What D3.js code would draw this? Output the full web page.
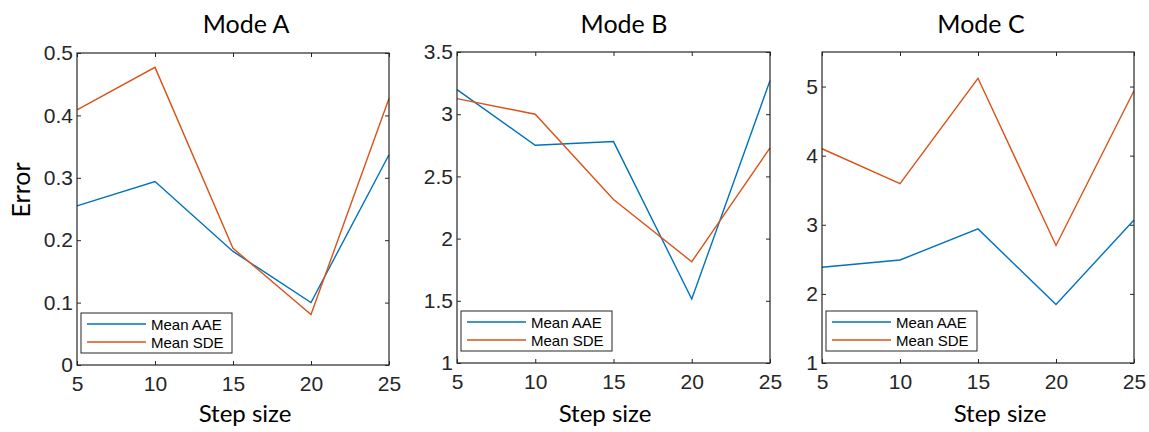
<!DOCTYPE html>
<html>
<head>
<meta charset="utf-8">
<script src="https://cdn.jsdelivr.net/npm/d3@7"></script>
<style>
  body { margin: 0; background: #fff; }
  svg { display: block; }
</style>
</head>
<body>
<div id="chart"></div>
<script>
// data
const steps = [5, 10, 15, 20, 25];
const seriesNames = ["Mean AAE", "Mean SDE"];
const panelTitles = ["Mode A", "Mode B", "Mode C"];

const modeA_AAE = [0.255, 0.294, 0.182, 0.100, 0.337];
const modeA_SDE = [0.409, 0.477, 0.187, 0.081, 0.427];
const modeB_AAE = [3.198, 2.750, 2.780, 1.514, 3.270];
const modeB_SDE = [3.125, 3.000, 2.314, 1.814, 2.729];
const modeC_AAE = [2.385, 2.490, 2.940, 1.846, 3.070];
const modeC_SDE = [4.100, 3.596, 5.120, 2.700, 4.940];

const yDomainA = [0, 0.5];
const yDomainB = [1, 3.5];
const yDomainC = [1, 5.5];
const yTicksA = [0, 0.1, 0.2, 0.3, 0.4, 0.5];
const yTicksB = [1, 1.5, 2, 2.5, 3, 3.5];
const yTicksC = [1, 2, 3, 4, 5];

const width = 1149, height = 432;
const colors = ["#0072BD", "#D95319"];
const axisColor = "#262626";

// plot boxes (left, top, right, bottom) and label positions
const panels = [
  { title: panelTitles[0], series: [modeA_AAE, modeA_SDE], domain: yDomainA, ticks: yTicksA,
    box: [77, 53, 389, 365], titleX: 246, xlabX: 245 },
  { title: panelTitles[1], series: [modeB_AAE, modeB_SDE], domain: yDomainB, ticks: yTicksB,
    box: [457, 52, 770, 363], titleX: 624, xlabX: 605 },
  { title: panelTitles[2], series: [modeC_AAE, modeC_SDE], domain: yDomainC, ticks: yTicksC,
    box: [822, 52, 1134, 363], titleX: 981, xlabX: 1000 }
];

const svg = d3.select("#chart").append("svg")
  .attr("width", width)
  .attr("height", height);

const tickFont = "'Liberation Sans', Arial, sans-serif";
const labelFont = "Lato, 'Open Sans', sans-serif";

panels.forEach((p, i) => {
  const [x0, y0, x1, y1] = p.box;
  const x = d3.scaleLinear().domain([5, 25]).range([x0, x1]);
  const y = d3.scaleLinear().domain(p.domain).range([y1, y0]);
  const g = svg.append("g");

  // data lines
  const line = d3.line().x((d, j) => x(steps[j])).y(d => y(d));
  p.series.forEach((s, k) => {
    g.append("path")
      .datum(s)
      .attr("fill", "none")
      .attr("stroke", colors[k])
      .attr("stroke-width", 1.4)
      .attr("d", line);
  });

  // axes with inward ticks, mirrored on top/right
  const fmt = d => String(d);
  const bottom = g.append("g").attr("transform", `translate(0,${y1})`)
    .call(d3.axisBottom(x).tickValues(steps).tickFormat(fmt).tickSize(-4).tickPadding(11));
  const left = g.append("g").attr("transform", `translate(${x0},0)`)
    .call(d3.axisLeft(y).tickValues(p.ticks).tickFormat(fmt).tickSize(-4).tickPadding(4));
  const top = g.append("g").attr("transform", `translate(0,${y0})`)
    .call(d3.axisTop(x).tickValues(steps).tickFormat("").tickSize(-4));
  const right = g.append("g").attr("transform", `translate(${x1},0)`)
    .call(d3.axisRight(y).tickValues(p.ticks).tickFormat("").tickSize(-4));

  [bottom, left, top, right].forEach(a => {
    a.select(".domain").remove();
    a.selectAll("line").attr("stroke", axisColor);
    a.selectAll("text")
      .attr("fill", axisColor)
      .style("font-family", tickFont)
      .style("font-size", "21px");
  });

  g.append("rect")
    .attr("x", x0).attr("y", y0)
    .attr("width", x1 - x0).attr("height", y1 - y0)
    .attr("fill", "none")
    .attr("stroke", axisColor)
    .attr("stroke-width", 1.2);

  // title and x label
  g.append("text")
    .attr("x", p.titleX).attr("y", 33)
    .attr("text-anchor", "middle")
    .style("font-family", labelFont)
    .style("font-size", "25px")
    .attr("fill", "#000")
    .text(p.title);

  g.append("text")
    .attr("x", p.xlabX).attr("y", 422)
    .attr("text-anchor", "middle")
    .style("font-family", labelFont)
    .style("font-size", "24px")
    .attr("fill", "#000")
    .text("Step size");

  // legend
  const lg = g.append("g").attr("transform", `translate(${x0 + 4},${y1 - 52})`);
  lg.append("rect")
    .attr("width", 151).attr("height", 40)
    .attr("fill", "#fff")
    .attr("stroke", axisColor)
    .attr("stroke-width", 1);
  seriesNames.forEach((name, k) => {
    const yy = 11 + k * 18;
    lg.append("line")
      .attr("x1", 6).attr("x2", 65)
      .attr("y1", yy).attr("y2", yy)
      .attr("stroke", colors[k])
      .attr("stroke-width", 1.3);
    lg.append("text")
      .attr("x", 70).attr("y", yy + 5.5)
      .style("font-family", tickFont)
      .style("font-size", "15px")
      .attr("fill", "#000")
      .text(name);
  });
});

// shared y label
svg.append("text")
  .attr("transform", "translate(30,190) rotate(-90)")
  .attr("text-anchor", "middle")
  .style("font-family", labelFont)
  .style("font-size", "25px")
  .attr("fill", "#000")
  .text("Error");
</script>
</body>
</html>
